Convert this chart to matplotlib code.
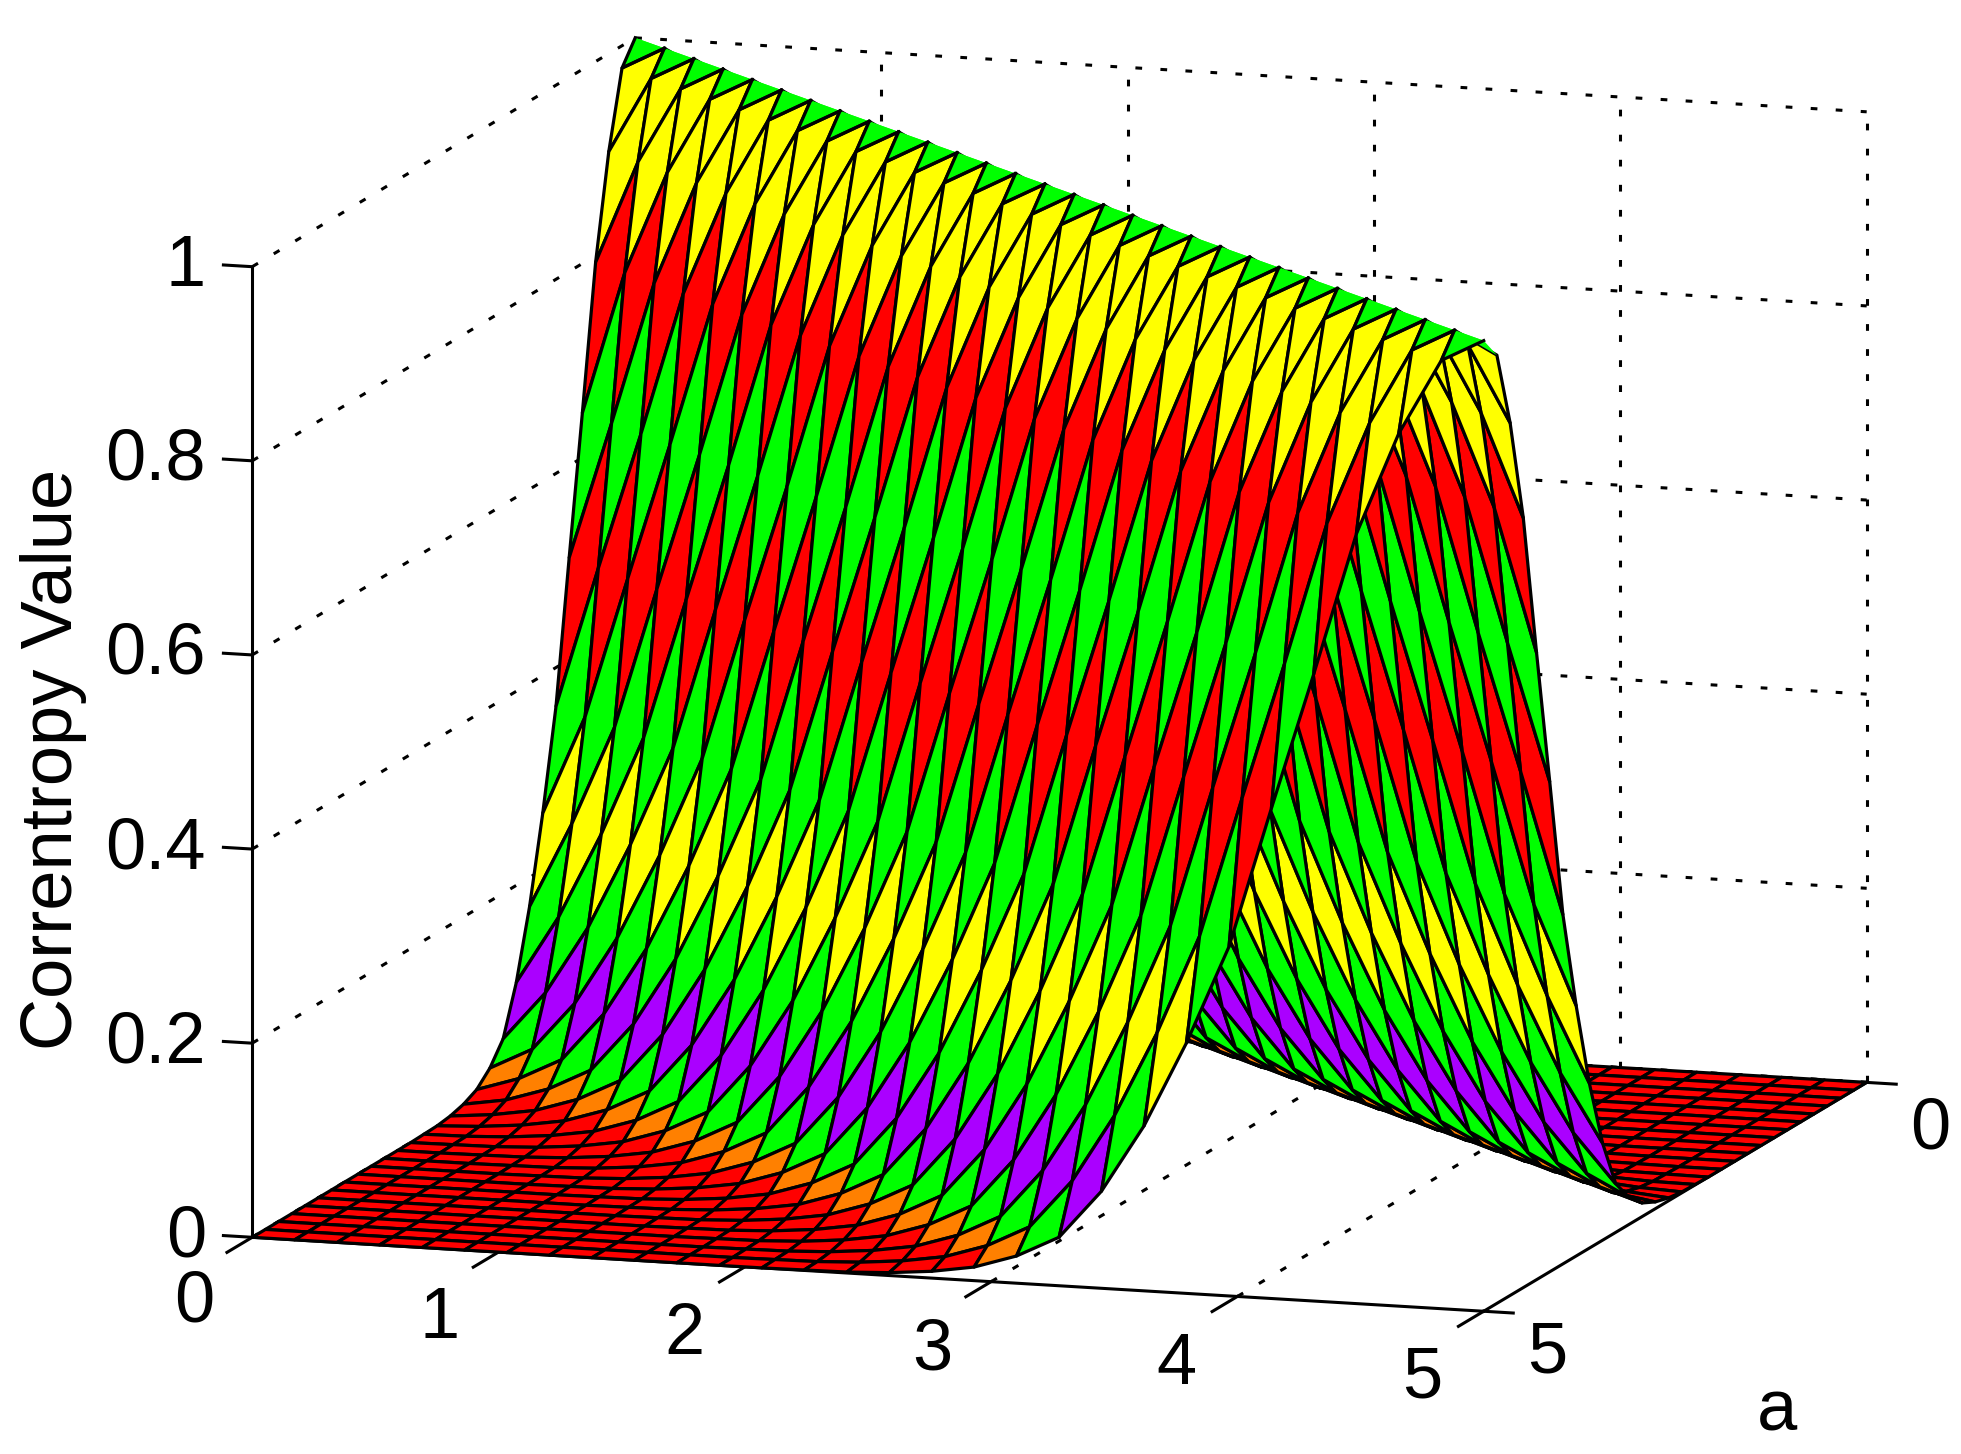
import numpy as np
import matplotlib
matplotlib.use("Agg")
import matplotlib.pyplot as plt
from mpl_toolkits.mplot3d.art3d import Poly3DCollection

plt.rcParams['font.family'] = ['Liberation Sans', 'DejaVu Sans']

W, H = 1961, 1454

# mesh of the surface, same values on both axes
a_values = [0, .172, .345, .517, .690, .862, 1.034, 1.207, 1.379, 1.552,
            1.724, 1.897, 2.069, 2.241, 2.414, 2.586, 2.759, 2.931, 3.103, 3.276,
            3.448, 3.621, 3.793, 3.966, 4.138, 4.310, 4.483, 4.655, 4.828, 5.0]

ridge_height = [1.0, .977, .899, .793, .646, .505, .360, .258, .170, .100,
                .050, .028, .014, .007, .003, .001, .0005, 0, 0, 0,
                0, 0, 0, 0, 0, 0, 0, 0, 0, 0]

# colour of each row of cells, same count from the diagonal
row_colors = ['green', 'yellow', 'yellow', 'red', 'green', 'red', 'green', 'yellow',
              'green', 'purple', 'green', 'orange', 'red', 'red', 'red', 'red',
              'red', 'red', 'red', 'red', 'red', 'red', 'red', 'red', 'red',
              'red', 'red', 'red', 'red', 'red']
palette = {'red': '#ff0000', 'orange': '#ff8000', 'yellow': '#ffff00',
           'green': '#00ff00', 'purple': '#aa00ff'}

x_ticks = [0, 1, 2, 3, 4, 5]
y_ticks = [0, 5]
z_ticks = [0, 0.2, 0.4, 0.6, 0.8, 1]
z_labels = ['0', '0.2', '0.4', '0.6', '0.8', '1']

S = 2001.8
fig = plt.figure(figsize=(W / 100, H / 100), dpi=100)
ax = fig.add_axes([31.5 / W, -248.5 / H, S / W, S / H], projection='3d')
ax.computed_zorder = False
ax.set_proj_type('ortho')
ax.view_init(elev=10.92, azim=-72.41)
ax.set_box_aspect((1292.4, 1267.8, 988.9))
ax.set_xlim(0, 5)
ax.set_ylim(5, 0)
ax.set_zlim(0, 1)
ax.set_axis_off()

# dotted grid on the floor and the two back walls
dots = dict(color='k', lw=2.2, ls=(0, (2.2, 6.0)), zorder=1, clip_on=False)
for x in x_ticks:
    ax.plot([x, x], [0, 0], [0, 1], **dots)
    if x < 5:
        ax.plot([x, x], [5, 0], [0, 0], **dots)
for z in z_ticks:
    ax.plot([0, 0], [5, 0], [z, z], **dots)
    ax.plot([0, 5], [0, 0], [z, z], **dots)
ax.plot([0, 5], [0, 0], [0, 0], **dots)

# solid axis lines and ticks
solid = dict(color='k', lw=2.2, zorder=1, clip_on=False)
ax.plot([0, 5], [5, 5], [0, 0], **solid)
ax.plot([5, 5], [5, 0], [0, 0], **solid)
ax.plot([0, 0], [5, 5], [0, 1], **solid)
for x in x_ticks:
    ax.plot([x, x], [5, 5.33], [0, 0], **solid)
for y in y_ticks:
    ax.plot([5, 5.12], [y, y], [0, 0], **solid)
for z in z_ticks:
    ax.plot([0, -0.117], [5, 5], [z, z], **solid)

# surface, every cell takes the height and colour of its row
n = len(a_values)
polys = []
faces = []
edges = []
for i in range(n - 1):
    for j in range(n - 1):
        c = palette[row_colors[abs(i - j)]]
        p00 = (a_values[j], a_values[i], ridge_height[abs(i - j)])
        p10 = (a_values[j + 1], a_values[i], ridge_height[abs(i + 0 - j - 1)])
        p11 = (a_values[j + 1], a_values[i + 1], ridge_height[abs(i - j)])
        p01 = (a_values[j], a_values[i + 1], ridge_height[abs(i + 1 - j)])
        if i == j:
            # cell on the ridge folds along the diagonal, no line along the fold
            polys += [[p00, p11, p01], [p00, p10, p11]]
            faces += [c, c]
            edges += ['none', 'none']
        else:
            polys.append([p00, p10, p11, p01])
            faces.append(c)
            edges.append('k')
surf = Poly3DCollection(polys, facecolors=faces, edgecolors=edges, linewidths=2.3, zorder=2)
surf.set_clip_on(False)
ax.add_collection3d(surf, autolim=False)

# grid lines of the ridge cells on the side facing the viewer
for i in range(n - 1):
    ax.plot([a_values[i], a_values[i], a_values[i + 1]],
            [a_values[i], a_values[i + 1], a_values[i + 1]],
            [ridge_height[0], ridge_height[1], ridge_height[0]],
            color='k', lw=2.3, zorder=3, clip_on=False)

ax.set_xlim(0, 5)
ax.set_ylim(5, 0)
ax.set_zlim(0, 1)


def label(px, py, s, **kw):
    fig.text(px / W, 1 - py / H, s, fontsize=52, color='k', **kw)


# tick labels sit at fixed pixel places like the original
x_label_px = [(194, 1303), (440, 1319), (684, 1336), (932, 1351), (1176, 1366), (1422, 1379)]
for x, (px, py) in zip(x_ticks, x_label_px):
    label(px, py, str(x), ha='center', va='center')
label(1547, 1354, '5', ha='center', va='center')
label(1930, 1130, '0', ha='center', va='center')
z_label_py = [1238, 1044, 850, 655, 461, 267]
for s, py in zip(z_labels, z_label_py):
    label(206, py, s, ha='right', va='center')
label(1777, 1412, 'a', ha='center', va='center')
label(54, 759, 'Correntropy Value', ha='center', va='center', rotation=90)

fig.savefig('out.png', dpi=100, facecolor='white')
